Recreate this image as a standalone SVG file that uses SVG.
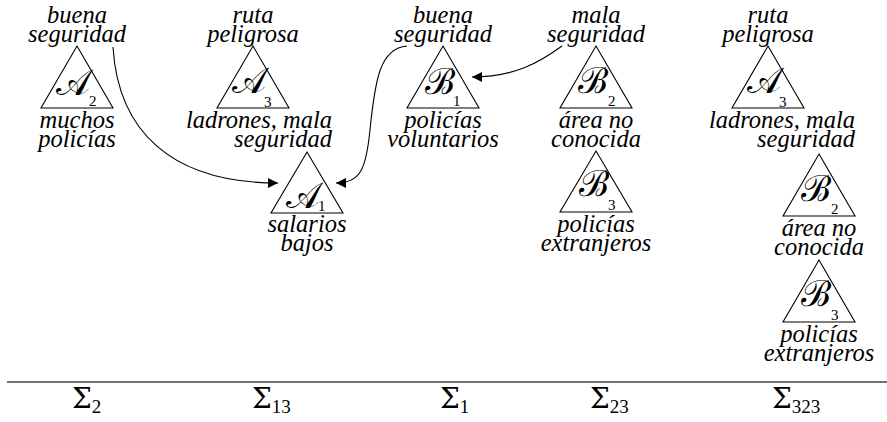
<svg xmlns="http://www.w3.org/2000/svg" width="887" height="422" viewBox="0 0 887 422">
<style>
.lbl{font-family:'Liberation Serif','Times New Roman',serif;font-style:italic;font-size:24.5px;fill:#000;text-anchor:middle}
.r{text-anchor:end}
.cal{font-family:'Liberation Serif',serif;font-size:36px;fill:#000;text-anchor:middle}
.sub{font-family:'Liberation Serif',serif;font-size:15px;fill:#000}
.tri{fill:none;stroke:#000;stroke-width:1.1}
.sig{font-family:'DejaVu Serif',serif;font-size:28px;fill:#000}
.sigs{font-family:'Liberation Serif',serif;font-size:19px}
.conn{fill:none;stroke:#000;stroke-width:1.1}
</style>
<defs>
<marker id="ah" markerWidth="10" markerHeight="10" refX="10" refY="5" orient="auto" markerUnits="userSpaceOnUse">
<path d="M0,0 L10,5 L0,10 z" fill="#000"/>
</marker>
</defs>
<rect width="887" height="422" fill="#fff"/>

<g id="n-A2">
<text class="lbl" x="77" y="23">buena</text>
<text class="lbl" x="77" y="42">seguridad</text>
<path class="tri" d="M77,46 L113,108 L41,108 z"/>
<text class="cal" x="73" y="95">𝒜</text>
<text class="sub" x="89" y="106">2</text>
<text class="lbl" x="77" y="128">muchos</text>
<text class="lbl" x="77" y="147">policías</text>
</g>

<g id="n-A3a">
<text class="lbl" x="253" y="23">ruta</text>
<text class="lbl" x="253" y="42">peligrosa</text>
<path class="tri" d="M253,46 L289,108 L217,108 z"/>
<text class="cal" x="249" y="93">𝒜</text>
<text class="sub" x="264" y="107">3</text>
<text class="lbl r" x="332" y="128">ladrones, mala</text>
<text class="lbl r" x="332" y="147">seguridad</text>
</g>

<g id="n-A1">
<path class="tri" d="M307,152 L343,213 L271,213 z"/>
<text class="cal" x="303" y="208">𝒜</text>
<text class="sub" x="318" y="211">1</text>
<text class="lbl" x="307" y="232">salarios</text>
<text class="lbl" x="307" y="251">bajos</text>
</g>

<g id="n-B1">
<text class="lbl" x="443" y="23">buena</text>
<text class="lbl" x="443" y="42">seguridad</text>
<path class="tri" d="M443,46 L479,108 L407,108 z"/>
<text class="cal" x="440" y="94">ℬ</text>
<text class="sub" x="453" y="106">1</text>
<text class="lbl" x="443" y="128">policías</text>
<text class="lbl" x="443" y="147">voluntarios</text>
</g>

<g id="n-B2a">
<text class="lbl" x="596" y="23">mala</text>
<text class="lbl" x="596" y="42">seguridad</text>
<path class="tri" d="M596,46 L632,108 L560,108 z"/>
<text class="cal" x="593" y="93">ℬ</text>
<text class="sub" x="608" y="106">2</text>
<text class="lbl" x="596" y="128">área no</text>
<text class="lbl" x="596" y="147">conocida</text>
</g>

<g id="n-B3a">
<path class="tri" d="M596,151 L632,212 L560,212 z"/>
<text class="cal" x="594" y="196">ℬ</text>
<text class="sub" x="608" y="210">3</text>
<text class="lbl" x="596" y="232">policías</text>
<text class="lbl" x="596" y="251">extranjeros</text>
</g>

<g id="n-A3b">
<text class="lbl" x="768" y="23">ruta</text>
<text class="lbl" x="768" y="42">peligrosa</text>
<path class="tri" d="M768,46 L804,108 L732,108 z"/>
<text class="cal" x="764" y="93">𝒜</text>
<text class="sub" x="779" y="107">3</text>
<text class="lbl r" x="855" y="128">ladrones, mala</text>
<text class="lbl r" x="855" y="147">seguridad</text>
</g>

<g id="n-B2b">
<path class="tri" d="M819,154 L855,216 L783,216 z"/>
<text class="cal" x="816" y="201">ℬ</text>
<text class="sub" x="831" y="214">2</text>
<text class="lbl" x="819" y="236">área no</text>
<text class="lbl" x="819" y="255">conocida</text>
</g>

<g id="n-B3b">
<path class="tri" d="M819,260 L855,322 L783,322 z"/>
<text class="cal" x="816" y="306">ℬ</text>
<text class="sub" x="831" y="320">3</text>
<text class="lbl" x="819" y="342">policías</text>
<text class="lbl" x="819" y="361">extranjeros</text>
</g>

<g id="connectors">
<path class="conn" d="M113,47 C118,130 170,183 278,183" marker-end="url(#ah)"/>
<path class="conn" d="M407,46 C380,48 375,80 370,130 C366,170 360,183 336,183" marker-end="url(#ah)"/>
<path class="conn" d="M562,46 C540,62 515,77 472,77" marker-end="url(#ah)"/>
</g>

<g id="axis">
<line x1="7" y1="382" x2="887" y2="382" stroke="#444" stroke-width="1.4"/>
<text class="sig" x="72" y="408">Σ<tspan class="sigs" dy="5">2</tspan></text>
<text class="sig" x="252" y="408">Σ<tspan class="sigs" dy="5">13</tspan></text>
<text class="sig" x="440" y="408">Σ<tspan class="sigs" dy="5">1</tspan></text>
<text class="sig" x="590" y="408">Σ<tspan class="sigs" dy="5">23</tspan></text>
<text class="sig" x="772" y="408">Σ<tspan class="sigs" dy="5">323</tspan></text>
</g>
</svg>
